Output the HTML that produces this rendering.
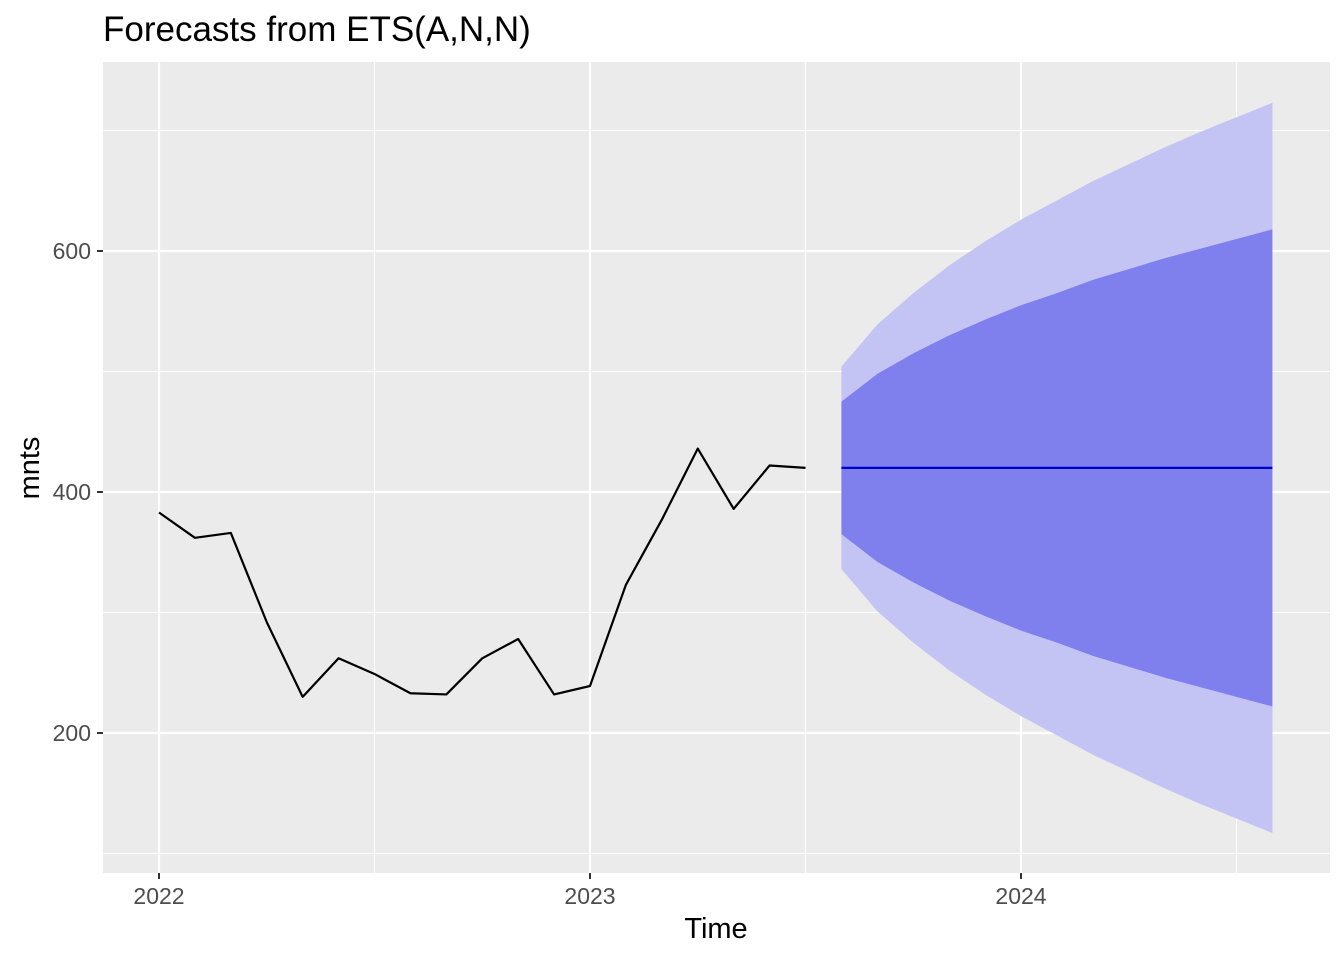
<!DOCTYPE html>
<html><head><meta charset="utf-8"><style>
html,body{margin:0;padding:0;background:#fff}
svg{display:block;font-family:"Liberation Sans",sans-serif}
</style></head><body>
<svg id="chart" width="1344" height="960">
<text x="103" y="41" font-size="35" fill="#000">Forecasts from ETS(A,N,N)</text>
<rect x="103" y="62" width="1227" height="811" fill="#ebebeb"/>
<g id="grid"></g>
<g id="bands"></g>
<g id="lines"></g>
<g id="axes"></g>
<text x="716" y="938" font-size="29" text-anchor="middle" fill="#000">Time</text>
<text transform="translate(39,468) rotate(-90)" font-size="29" text-anchor="middle" fill="#000">mnts</text>
</svg>
<script>
const histValues=[383,362,366,292,230,262,249,233,232,262,278,232,239,323,377,436,386,422,420];
const histStart=2022;
const fcStart=2023+7/12;
const fcMean=[420,420,420,420,420,420,420,420,420,420,420,420,420];
const lo80=[365,342,325,310,297,285,275,264,255,246,238,230,222];
const hi80=[475,498,515,530,543,555,565,576,585,594,602,610,618];
const lo95=[336,301,275,252,232,214,198,182,168,154,141,129,117];
const hi95=[504,539,565,588,608,626,642,658,672,686,699,711,723];
const xTicks=[2022,2023,2024];
const xTickLabels=["2022","2023","2024"];
const yTicks=[200,400,600];
const yTickLabels=["200","400","600"];
const NS="http://www.w3.org/2000/svg";
const X=t=>159+(t-2022)*431;
const Y=v=>492-(v-400)*1.205;
function mk(tag,attrs,parent){const e=document.createElementNS(NS,tag);for(const k in attrs)e.setAttribute(k,attrs[k]);document.getElementById(parent).appendChild(e);return e;}
[100,300,500,700].forEach(v=>{const e=mk('line',{x1:103,x2:1330,y1:Y(v),y2:Y(v),stroke:'#fff','stroke-width':1.1},'grid');

});
[2022.5,2023.5,2024.5].forEach(t=>{const e=mk('line',{x1:X(t),x2:X(t),y1:62,y2:873,stroke:'#fff','stroke-width':1.1},'grid');

});
yTicks.forEach((v,i)=>{const e=mk('line',{x1:103,x2:1330,y1:Y(v),y2:Y(v),stroke:'#fff','stroke-width':2.2},'grid');


const t=mk('line',{x1:97,x2:103,y1:Y(v),y2:Y(v),stroke:'#333','stroke-width':2},'axes');


const l=mk('text',{x:91,y:Y(v)+8,'font-size':23,'text-anchor':'end',fill:'#4d4d4d'},'axes');l.textContent=yTickLabels[i];

});
xTicks.forEach((v,i)=>{const e=mk('line',{x1:X(v),x2:X(v),y1:62,y2:873,stroke:'#fff','stroke-width':2.2},'grid');


const t=mk('line',{x1:X(v),x2:X(v),y1:873,y2:879,stroke:'#333','stroke-width':2},'axes');


const l=mk('text',{x:X(v),y:904,'font-size':23,'text-anchor':'middle',fill:'#4d4d4d'},'axes');l.textContent=xTickLabels[i];

});
function band(lo,hi,fill,name){let p=hi.map((v,i)=>X(fcStart+i/12)+','+Y(v));
for(let i=lo.length-1;i>=0;i--)p.push(X(fcStart+i/12)+','+Y(lo[i]));
const e=mk('polygon',{points:p.join(' '),fill:fill},'bands');

}
band(lo95,hi95,'#c4c4f4','band-95');
band(lo80,hi80,'#7f7fee','band-80');
const hp=histValues.map((v,i)=>X(histStart+i/12)+','+Y(v)).join(' ');
const h=mk('polyline',{points:hp,fill:'none',stroke:'#000','stroke-width':2.2,'stroke-linejoin':'round'},'lines');


const fp=fcMean.map((v,i)=>X(fcStart+i/12)+','+Y(v)).join(' ');
const f=mk('polyline',{points:fp,fill:'none',stroke:'#0000cc','stroke-width':2.2},'lines');


</script>
</body></html>
